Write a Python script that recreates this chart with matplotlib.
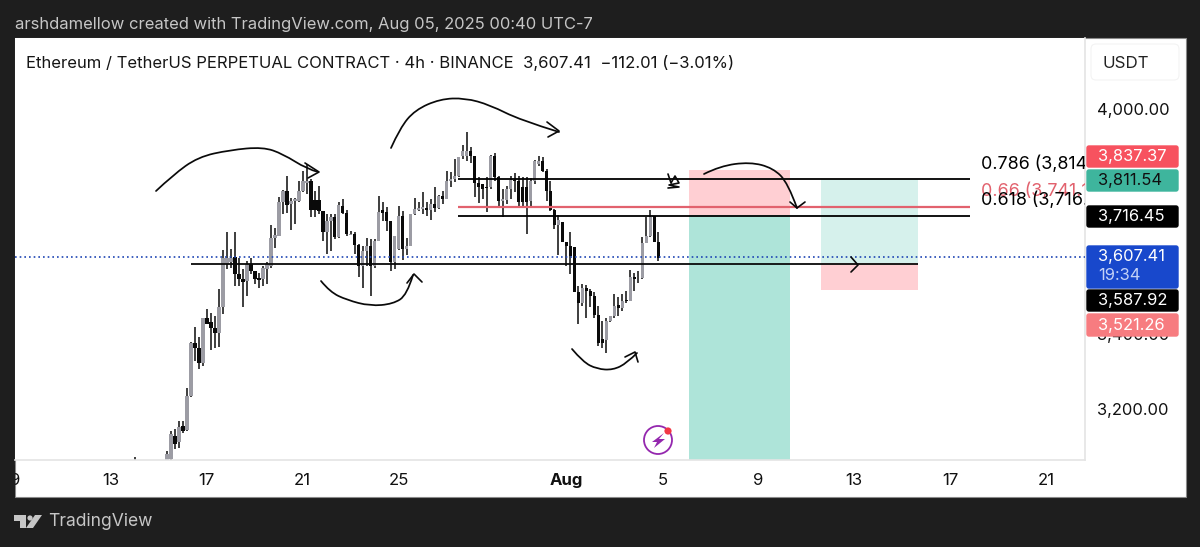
import numpy as np
import matplotlib
matplotlib.use('Agg')
import matplotlib.pyplot as plt
from matplotlib.patches import Rectangle, FancyBboxPatch, Circle, Polygon, PathPatch
from matplotlib.path import Path

plt.rcParams['font.family'] = ['Inter', 'DejaVu Sans']

# 4h candles, the first one is Jul 14 00:00, day numbers count on from July (Aug 1 = 32)
first_day = 14.0
opens = [3020, 3022, 3028, 3030, 3026, 3024, 3030, 3028, 3020, 3065, 3128, 3110, 3154, 3143, 3234, 3375, 3363, 3323, 3441, 3430,
         3415, 3403, 3470, 3585, 3590, 3605, 3559, 3545, 3541, 3585, 3566, 3548, 3545, 3572, 3581, 3655, 3661, 3752, 3781, 3747,
         3753, 3753, 3781, 3803, 3808, 3756, 3756, 3726, 3670, 3701, 3712, 3658, 3741, 3723, 3664, 3665, 3637, 3581, 3621, 3634,
         3581, 3648, 3729, 3725, 3701, 3590, 3625, 3714, 3625, 3634, 3719, 3731, 3732, 3735, 3729, 3746, 3735, 3768, 3759, 3808,
         3812, 3821, 3875, 3875, 3888, 3875, 3801, 3799, 3792, 3790, 3875, 3819, 3755, 3756, 3786, 3810, 3808, 3792, 3792, 3755,
         3806, 3852, 3860, 3833, 3781, 3730, 3691, 3697, 3644, 3635, 3630, 3510, 3481, 3523, 3515, 3501, 3451, 3386, 3383, 3435,
         3448, 3476, 3468, 3490, 3488, 3550, 3547, 3548, 3641, 3661, 3715, 3644]
closes = [3040, 3028, 3030, 3026, 3024, 3030, 3028, 3020, 3080, 3132, 3107, 3152, 3141, 3234, 3376, 3363, 3323, 3441, 3427, 3415,
          3403, 3470, 3603, 3603, 3603, 3559, 3545, 3539, 3587, 3566, 3545, 3544, 3575, 3585, 3655, 3664, 3752, 3781, 3744, 3754,
          3759, 3781, 3806, 3808, 3729, 3729, 3726, 3670, 3701, 3712, 3658, 3744, 3723, 3667, 3667, 3637, 3581, 3621, 3634, 3581,
          3648, 3725, 3723, 3701, 3590, 3661, 3714, 3625, 3634, 3719, 3732, 3735, 3737, 3731, 3747, 3735, 3768, 3759, 3808, 3812,
          3821, 3870, 3888, 3888, 3875, 3801, 3792, 3786, 3788, 3875, 3819, 3755, 3759, 3786, 3810, 3806, 3750, 3750, 3750, 3806,
          3861, 3861, 3833, 3781, 3730, 3691, 3703, 3644, 3635, 3608, 3510, 3481, 3522, 3515, 3501, 3451, 3374, 3374, 3435, 3448,
          3475, 3468, 3488, 3486, 3550, 3546, 3546, 3641, 3661, 3712, 3644, 3603]
highs = [3072, 3040, 3044, 3040, 3036, 3040, 3042, 3040, 3088, 3141, 3145, 3166, 3168, 3256, 3378, 3417, 3390, 3443, 3465, 3456,
         3448, 3519, 3623, 3670, 3625, 3670, 3603, 3572, 3594, 3603, 3568, 3563, 3581, 3590, 3690, 3683, 3765, 3783, 3821, 3763,
         3762, 3808, 3834, 3852, 3812, 3781, 3794, 3728, 3719, 3719, 3719, 3750, 3759, 3729, 3674, 3670, 3639, 3634, 3656, 3652,
         3652, 3768, 3750, 3737, 3701, 3661, 3741, 3728, 3656, 3720, 3761, 3750, 3778, 3750, 3759, 3790, 3771, 3780, 3835, 3830,
         3866, 3872, 3904, 3937, 3897, 3875, 3817, 3799, 3817, 3877, 3881, 3821, 3786, 3795, 3821, 3828, 3821, 3817, 3817, 3815,
         3863, 3875, 3870, 3839, 3808, 3732, 3717, 3697, 3644, 3670, 3630, 3528, 3532, 3531, 3519, 3510, 3475, 3435, 3443, 3448,
         3507, 3497, 3506, 3515, 3570, 3563, 3568, 3659, 3710, 3730, 3715, 3670]
lows = [3000, 3010, 3012, 3010, 3008, 3012, 3014, 3005, 3000, 3050, 3092, 3095, 3136, 3141, 3230, 3328, 3305, 3314, 3425, 3356,
        3363, 3365, 3452, 3572, 3576, 3528, 3528, 3470, 3501, 3559, 3532, 3521, 3528, 3532, 3575, 3628, 3661, 3719, 3723, 3676,
        3692, 3750, 3777, 3772, 3712, 3712, 3719, 3648, 3612, 3621, 3652, 3656, 3719, 3661, 3662, 3612, 3550, 3521, 3581, 3501,
        3575, 3648, 3701, 3674, 3568, 3572, 3623, 3596, 3610, 3634, 3717, 3728, 3719, 3714, 3703, 3724, 3732, 3746, 3759, 3790,
        3804, 3817, 3866, 3861, 3854, 3765, 3748, 3759, 3724, 3786, 3808, 3741, 3710, 3746, 3759, 3777, 3741, 3741, 3666, 3737,
        3799, 3848, 3830, 3755, 3728, 3679, 3611, 3644, 3581, 3559, 3510, 3426, 3475, 3443, 3470, 3443, 3368, 3363, 3348, 3430,
        3443, 3448, 3461, 3483, 3486, 3515, 3534, 3546, 3641, 3657, 3644, 3595]

last_price = 3604

# position tools (prices) and drawn levels
short_stop = 3837.37
short_entry = 3716.45
short_target = 3000
long_target = 3811.54
long_entry = 3587.92
long_stop = 3517

fib_labels = ['0.786 (3,814.07)', '0.66 (3,741.12)', '0.618 (3,716.45)']
fib_levels = [3812, 3738, 3714]
fib_colors = ['black', '#e2626e', 'black']

price_ticks = [3200, 3400, 4000]
price_tick_labels = ['3,200.00', '3,400.00', '4,000.00']
day_ticks = [9, 13, 17, 21, 25, 32, 36, 40, 44, 48, 52]
day_tick_labels = ['9', '13', '17', '21', '25', 'Aug', '5', '9', '13', '17', '21']

# price tags on the right scale: text, top, bottom, fill, text colour
tags = [('3,837.37', 145, 168, '#f7525f', 'white'),
        ('3,811.54', 169, 192, '#3eb59d', '#101010'),
        ('3,716.45', 205, 228, 'black', 'white'),
        ('3,587.92', 289, 312, 'black', 'white'),
        ('3,521.26', 313, 337, '#f77c80', 'white')]

# hand drawn strokes, in pixels of the picture
strokes = [
    [(156, 191), (173, 175), (198, 157), (230, 150), (263, 147), (283, 154), (307, 169), (318, 172)],
    [(321, 281), (330, 292), (347, 300), (370, 306), (393, 304), (407, 295), (413, 275)],
    [(391, 148), (400, 128), (415, 110), (440, 99), (465, 98), (490, 105), (520, 120), (559, 132)],
    [(572, 349), (583, 362), (597, 369), (613, 370), (627, 363), (637, 353)],
    [(704, 174), (720, 166), (750, 162), (773, 168), (788, 183), (797, 208)],
]
heads = [
    [(305, 163), (319, 172), (308, 178)],
    [(407, 283), (414, 274), (422, 282)],
    [(547, 122), (559, 131), (548, 137)],
    [(625, 357), (635, 352), (638, 362)],
    [(790, 202), (797, 208), (805, 202)],
    [(851, 257), (858, 265), (851, 272)],
    [(668, 174), (671, 183), (675, 176), (679, 183), (669, 185), (679, 187), (668, 188)],
]


def smooth_stroke(points):
    # quadratic pieces through the midpoints, looks like a pen line
    verts = [points[0]]
    codes = [Path.MOVETO]
    for i in range(1, len(points) - 1):
        end = points[i + 1]
        if i < len(points) - 2:
            end = ((points[i][0] + points[i + 1][0]) / 2, (points[i][1] + points[i + 1][1]) / 2)
        verts += [points[i], end]
        codes += [Path.CURVE3, Path.CURVE3]
    return Path(verts, codes)


fig = plt.figure(figsize=(12, 5.47), dpi=100, facecolor='#1e1e1e')

bg = fig.add_axes([0, 0, 1, 1], zorder=-1)
bg.set_xlim(0, 1200)
bg.set_ylim(547, 0)
bg.axis('off')
bg.add_patch(Rectangle((15, 38), 1171, 459, fc='white', ec='#8a8a8a', lw=0.8))

# chart area is x 15-1085, y 38-459.5 in the picture
ax = fig.add_axes([15 / 1200, 1 - 459.5 / 547, 1070 / 1200, 421.5 / 547], facecolor='white', zorder=1)
ax.set_xlim(9.04, 53.625)
ax.set_ylim(3064.5, 4188.5)
for s in ax.spines.values():
    s.set_visible(False)
ax.spines['right'].set_visible(True)
ax.spines['bottom'].set_visible(True)
ax.spines['right'].set_color('#e4e4e4')
ax.spines['bottom'].set_color('#e4e4e4')
ax.spines['right'].set_linewidth(1.2)
ax.spines['bottom'].set_linewidth(1.2)

# position boxes
ax.bar(39.23, short_stop - short_entry, bottom=short_entry, width=4.21, color='#ffcfd3', zorder=1)
ax.bar(39.23, short_entry - short_target, bottom=short_target, width=4.21, color='#aee4d9', zorder=1)
ax.bar(44.65, long_target - long_entry, bottom=long_entry, width=4.04, color='#d6f1ec', zorder=1)
ax.bar(44.65, long_entry - long_stop, bottom=long_stop, width=4.04, color='#ffcfd3', zorder=1)

# candles
opens = np.array(opens)
closes = np.array(closes)
days = first_day + np.arange(len(opens)) / 6
body_colors = ['#9c9ca4' if c >= o else '#0a0a0a' for o, c in zip(opens, closes)]
ax.vlines(days, lows, highs, color='#0a0a0a', lw=1.1, zorder=2)
ax.bar(days, closes - opens, bottom=opens, width=0.15, color=body_colors, zorder=2.5)

# levels
ax.axhline(last_price, color='#1f46b4', lw=1.2, ls=(0, (1, 1.8)), zorder=3)
ax.hlines(long_entry - 3, 16.33, 46.67, color='#0a0a0a', lw=1.3, zorder=3)
for level, label, color in zip(fib_levels, fib_labels, fib_colors):
    ax.hlines(level, 27.46, 48.83, color=color, lw=1.6 if color != 'black' else 1.3, zorder=3)
    ax.annotate(label, xy=(48.83, level), xytext=(8, 11), textcoords='offset points', fontsize=12.9,
                color=color, va='center', ha='left', clip_on=True, zorder=3)

ax.set_xticks(day_ticks)
ax.set_xticklabels(day_tick_labels, fontsize=12, color='#111111')
ax.get_xticklabels()[5].set_fontweight('bold')
ax.yaxis.tick_right()
ax.set_yticks(price_ticks)
ax.set_yticklabels(price_tick_labels, fontsize=11.9, color='#111111')
ax.tick_params(axis='both', length=0)
ax.tick_params(axis='x', pad=9.5)
ax.tick_params(axis='y', pad=9)

# overlay in picture pixels for the chrome and the pen strokes
over = fig.add_axes([0, 0, 1, 1], zorder=2)
over.set_xlim(0, 1200)
over.set_ylim(547, 0)
over.axis('off')
over.add_patch(Rectangle((0, 465), 15, 32, fc='#1e1e1e', ec='none'))

for points in strokes:
    over.add_patch(PathPatch(smooth_stroke(points), fc='none', ec='#0a0a0a', lw=1.25, capstyle='round'))
for points in heads:
    over.plot(*zip(*points), color='#0a0a0a', lw=1.2, solid_capstyle='round', solid_joinstyle='round')

# price tags
for text, top, bottom, fill, tcolor in tags:
    over.add_patch(FancyBboxPatch((1087, top + 1), 91, bottom - top - 2, boxstyle='round,pad=0,rounding_size=2',
                                  fc=fill, ec=fill, lw=1))
    over.text(1098, (top + bottom) / 2 + 0.5, text, color=tcolor, fontsize=11.9, va='center', ha='left')
over.add_patch(FancyBboxPatch((1087, 246), 91, 42, boxstyle='round,pad=0,rounding_size=2', fc='#1848cc', ec='#1848cc', lw=1))
over.text(1098, 256.5, '3,607.41', color='white', fontsize=11.9, va='center', ha='left')
over.text(1098, 276, '19:34', color='#c4d2f7', fontsize=11.9, va='center', ha='left')

over.add_patch(FancyBboxPatch((1091, 44), 88, 36, boxstyle='round,pad=0,rounding_size=5', fc='white', ec='#f3f3f3', lw=0.8))
over.text(1103, 63, 'USDT', color='#222222', fontsize=12.2, va='center', ha='left')

# header, title, footer
over.text(15, 25, 'arshdamellow created with TradingView.com, Aug 05, 2025 00:40 UTC-7', color='#c6c6c6',
          fontsize=11.95, va='center', ha='left')
over.text(26, 63, 'Ethereum / TetherUS PERPETUAL CONTRACT · 4h · BINANCE  3,607.41  −112.01 (−3.01%)', color='#151515',
          fontsize=12.0, va='center', ha='left')
over.text(48, 521, 'TradingView', color='#c6c6c6', fontsize=12.6, va='center', ha='left')
over.add_patch(Polygon([(14, 515), (26, 515), (26, 528), (20, 528), (20, 521), (14, 521)], fc='#c6c6c6', ec='none'))
over.add_patch(Circle((30, 518), 2.6, fc='#c6c6c6', ec='none'))
over.add_patch(Polygon([(35, 515), (42, 515), (33, 528), (26, 528)], fc='#c6c6c6', ec='none'))

# purple flash badge
over.add_patch(Circle((658, 440), 14, fc='white', ec='#9427ae', lw=1.3))
over.add_patch(Polygon([(664, 433), (652, 442), (657, 442), (654, 448), (665, 439), (659, 439)], fc='#9427ae', ec='none'))
over.add_patch(Circle((668, 431), 3.6, fc='#f23645', ec='none'))

plt.savefig('out.png', dpi=100)
